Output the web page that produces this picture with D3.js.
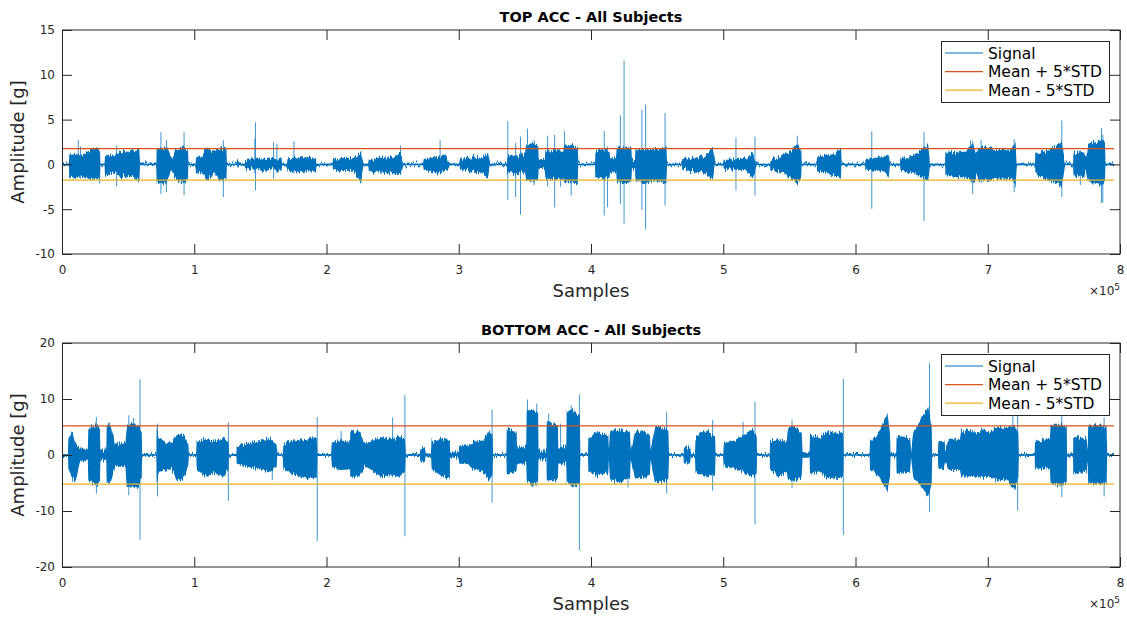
<!DOCTYPE html>
<html>
<head><meta charset="utf-8"></head>
<body style="margin:0;background:#fff">
<svg id="chart" width="1127" height="619"></svg>
<script src="https://d3js.org/d3.v7.min.js"></script>
<script>
// x values are in units of 1e5 samples, amplitudes in g
const xTicks = [0, 1, 2, 3, 4, 5, 6, 7, 8];
const topYTicks = [-10, -5, 0, 5, 10, 15];
const bottomYTicks = [-20, -10, 0, 10, 20];
const legendLabels = ["Signal", "Mean + 5*STD", "Mean - 5*STD"];
const signalEnd = 7.955;

const topUpper = 1.75, topLower = -1.75;
const bottomUpper = 5.2, bottomLower = -5.2;

// envelope of the dense signal: [x, max, min]
const topEnvelope = [
  [0,.1,-.1],[0.052,.1,-.1],[0.055,1.1,-1.6],[0.08,1.2,-1.3],[0.10,1.3,-1.5],[0.14,1.1,-1.2],[0.17,1.2,-1.4],[0.20,1.5,-1.6],[0.23,1.75,-1.7],[0.26,1.8,-1.6],[0.285,1.6,-1.8],[0.29,.1,-.1],
  [0.322,.1,-.1],[0.325,1.0,-1.3],[0.36,1.1,-1.1],[0.40,0.9,-1.0],[0.44,1.5,-1.4],[0.50,1.4,-1.3],[0.55,1.6,-1.5],[0.585,1.7,-1.9],[0.59,.1,-.1],
  [0.713,.1,-.1],[0.716,1.9,-2.0],[0.75,1.7,-2.2],[0.79,2.0,-2.0],[0.83,0.6,-0.6],[0.86,1.6,-1.7],[0.92,2.0,-2.1],[0.952,1.6,-1.6],[0.956,.1,-.1],
  [1.01,.1,-.1],[1.013,1.0,-0.8],[1.06,1.0,-0.9],[1.09,2.0,-1.7],[1.15,1.3,-1.1],[1.20,1.8,-1.8],[1.243,1.9,-1.7],[1.247,.1,-.1],
  [1.32,.1,-.1],[1.33,.5,-.5],[1.34,.1,-.1],[1.38,.1,-.1],[1.385,0.5,-0.5],[1.45,0.6,-0.6],[1.52,0.65,-0.7],[1.60,0.6,-0.6],[1.66,0.7,-0.7],[1.665,.1,-.1],
  [1.70,.1,-.1],[1.705,0.7,-0.7],[1.78,0.8,-0.9],[1.85,0.8,-0.8],[1.92,0.6,-0.8],[1.926,.1,-.1],
  [2.045,.1,-.1],[2.05,0.6,-0.6],[2.13,0.75,-0.75],[2.20,0.7,-0.7],[2.26,1.4,-1.9],[2.28,.1,-.1],
  [2.315,.1,-.1],[2.32,0.6,-0.7],[2.40,0.75,-0.9],[2.50,0.8,-1.0],[2.56,1.3,-1.2],[2.58,.1,-.1],
  [2.73,.1,-.1],[2.735,0.6,-0.6],[2.80,0.75,-1.0],[2.86,0.9,-1.0],[2.90,1.0,-0.8],[2.934,.1,-.1],
  [3.005,.1,-.1],[3.01,0.6,-0.6],[3.10,0.8,-0.8],[3.18,0.9,-0.9],[3.22,1.4,-1.6],[3.236,.1,-.1],
  [3.363,.1,-.1],[3.366,0.9,-0.9],[3.43,0.9,-1.1],[3.50,1.0,-1.0],[3.51,2.2,-1.8],[3.56,2.4,-1.9],[3.60,2.1,-1.8],[3.605,0.5,-0.5],[3.65,0.5,-0.5],
  [3.655,1.5,-1.6],[3.72,1.6,-1.6],[3.79,1.5,-1.6],[3.795,2.1,-2.0],[3.85,2.2,-2.0],[3.90,2.0,-2.1],[3.904,.1,-.1],
  [4.03,.1,-.1],[4.033,1.5,-1.4],[4.09,1.7,-1.6],[4.14,1.5,-1.5],[4.145,0.8,-0.8],[4.19,0.8,-0.8],[4.195,1.9,-2.0],[4.25,2.0,-2.1],[4.305,1.9,-2.0],[4.31,0.5,-0.5],
  [4.333,0.5,-0.5],[4.336,1.6,-1.8],[4.40,1.8,-2.1],[4.47,1.7,-1.8],[4.53,1.8,-2.0],[4.57,1.9,-2.2],[4.575,.1,-.1],
  [4.686,.1,-.1],[4.69,0.6,-0.6],[4.78,0.75,-0.8],[4.86,0.9,-0.9],[4.92,1.9,-1.85],[4.938,.1,-.1],
  [5.0,.1,-.1],[5.003,0.5,-0.5],[5.10,0.6,-0.6],[5.18,0.7,-0.7],[5.22,1.4,-1.6],[5.253,.1,-.1],
  [5.354,.1,-.1],[5.357,0.6,-0.6],[5.42,0.8,-0.8],[5.50,1.3,-1.4],[5.56,2.3,-2.2],[5.59,1.5,-1.5],[5.593,.1,-.1],
  [5.707,.1,-.1],[5.71,0.8,-0.8],[5.78,1.0,-1.05],[5.85,1.2,-1.3],[5.89,1.9,-1.6],[5.895,.1,-.1],
  [6.072,.1,-.1],[6.075,0.6,-0.6],[6.15,0.75,-0.7],[6.22,0.8,-0.8],[6.25,1.3,-1.4],[6.261,.1,-.1],
  [6.336,.1,-.1],[6.34,0.7,-0.7],[6.42,0.9,-0.9],[6.50,1.6,-1.4],[6.55,2.3,-1.7],[6.563,.1,-.1],
  [6.677,.1,-.1],[6.68,1.3,-1.2],[6.75,1.4,-1.4],[6.83,1.4,-1.5],[6.89,2.3,-2.0],[6.916,1.2,-1.2],[6.93,1.9,-1.8],[6.98,1.9,-1.8],[7.03,2.0,-1.9],
  [7.04,1.6,-1.6],[7.10,1.6,-1.7],[7.18,1.7,-1.6],[7.21,2.4,-2.5],[7.219,.1,-.1],
  [7.357,.1,-.1],[7.36,1.2,-1.1],[7.42,1.4,-1.5],[7.50,2.0,-2.0],[7.56,2.6,-2.4],[7.584,.1,-.1],
  [7.645,.1,-.1],[7.648,1.2,-1.2],[7.70,1.4,-1.4],[7.73,1.3,-1.4],[7.74,0.6,-0.6],[7.76,2.2,-2.0],[7.82,2.5,-2.2],[7.86,2.8,-2.3],[7.886,2.5,-2.1],[7.89,.1,-.1],
  [7.955,.1,-.1]
];

// isolated peaks: [x, max, min]
const topSpikes = [
  [0.123,2.75,-1.2],[0.14,2.0,-1.6],[0.285,1.4,-2.15],[0.413,2.1,-2.45],[0.577,1.8,-2.0],[0.748,3.6,-3.3],[0.79,2.7,-3.1],[0.923,3.6,-3.45],
  [1.22,2.7,-3.65],[1.458,2.86,-1.0],[1.463,4.7,-2.9],[1.60,2.5,-1.6],[1.625,2.3,-1.0],[1.754,2.6,-1.0],[2.26,1.5,-2.1],[2.56,2.1,-1.2],
  [2.859,2.7,-0.8],[3.371,4.83,-3.94],[3.43,2.4,-3.64],[3.467,3.1,-5.6],[3.52,4.0,-1.8],[3.57,2.7,-2.3],[3.672,3.2,-2.45],[3.725,3.3,-4.8],
  [3.77,1.5,-2.5],[3.80,3.7,-2.0],[3.85,2.0,-3.5],[4.10,3.7,-5.7],[4.125,2.0,-4.8],[4.222,5.46,-4.4],[4.25,11.6,-6.6],[4.385,6.1,-5.1],
  [4.413,6.7,-7.25],[4.56,5.76,-4.6],[5.096,3.0,-2.9],[5.24,3.1,-3.46],[5.56,3.2,-2.35],[6.123,3.7,-4.95],[6.518,3.6,-6.3],[6.87,2.7,-1.9],
  [6.886,2.6,-3.3],[6.95,2.75,-2.1],[7.20,2.85,-3.1],[7.56,4.9,-3.65],[7.70,1.5,-2.3],[7.86,4.05,-4.3],[7.87,3.3,-4.3]
];

const bottomEnvelope = [
  [0,.2,-.2],[0.045,.2,-.2],[0.048,2.5,-2.5],[0.07,4.1,-3.6],[0.10,2.0,-4.8],[0.136,1.2,-1.2],[0.195,1.0,-1.0],[0.199,4.5,-4.5],[0.23,5.3,-5.1],[0.26,5.5,-5.5],[0.287,4.8,-5.0],[0.29,1.0,-1.0],
  [0.335,1.0,-1.0],[0.338,5.3,-5.1],[0.37,5.3,-5.0],[0.40,2.0,-2.0],[0.48,2.5,-2.2],[0.489,5.0,-5.5],[0.53,5.6,-5.7],[0.57,5.4,-6.0],[0.603,4.0,-4.0],[0.606,.2,-.2],
  [0.713,.2,-.2],[0.716,5.0,-5.0],[0.73,3.0,-3.0],[0.78,2.4,-2.8],[0.83,2.2,-2.5],[0.87,3.8,-4.5],[0.92,3.6,-4.2],[0.955,2.0,-2.0],[0.96,.2,-.2],
  [1.015,.2,-.2],[1.018,2.5,-2.5],[1.08,2.9,-3.9],[1.15,2.6,-3.2],[1.22,2.9,-3.9],[1.258,2.5,-2.5],[1.262,.2,-.2],
  [1.318,.2,-.2],[1.321,1.6,-1.5],[1.40,2.0,-2.1],[1.50,2.5,-2.6],[1.58,2.9,-3.0],[1.623,2.0,-2.0],[1.628,.2,-.2],
  [1.67,.2,-.2],[1.673,2.0,-2.5],[1.75,2.6,-3.5],[1.85,2.9,-4.2],[1.926,3.0,-4.0],[1.93,.2,-.2],
  [2.035,.2,-.2],[2.04,2.0,-2.0],[2.10,2.6,-2.7],[2.178,2.4,-2.6],[2.18,4.1,-3.9],[2.25,4.0,-3.8],[2.29,2.0,-2.0],[2.33,2.5,-2.5],[2.40,3.2,-3.9],[2.48,3.0,-3.6],[2.55,3.2,-3.9],[2.594,3.0,-3.0],[2.6,.2,-.2],
  [2.705,.2,-.2],[2.71,1.2,-1.2],[2.745,1.2,-1.2],[2.75,.3,-.3],[2.79,.3,-.3],[2.795,2.5,-2.5],[2.86,2.9,-3.6],[2.93,2.7,-4.2],[2.934,.5,-.5],
  [3.0,.5,-.5],[3.004,1.7,-1.55],[3.07,1.7,-1.6],[3.10,2.3,-2.4],[3.18,2.6,-3.0],[3.23,4.4,-4.5],[3.255,3.5,-3.5],[3.26,.2,-.2],
  [3.36,.2,-.2],[3.363,4.7,-3.3],[3.438,4.0,-3.0],[3.44,1.5,-1.5],[3.51,1.5,-1.5],[3.514,8.0,-4.5],[3.56,8.0,-5.6],[3.60,7.5,-4.5],[3.603,0.8,-0.8],
  [3.663,0.8,-0.8],[3.665,5.9,-4.5],[3.75,5.5,-4.5],[3.753,1.5,-1.5],[3.813,1.5,-1.5],[3.816,8.0,-4.8],[3.87,8.0,-5.7],[3.915,7.0,-5.0],[3.92,.2,-.2],
  [3.977,.2,-.2],[3.98,3.0,-3.0],[4.05,4.1,-3.6],[4.131,3.5,-3.2],[4.135,1.0,-1.0],[4.144,4.4,-4.5],[4.22,4.4,-4.8],[4.295,4.0,-4.0],[4.30,0.8,-0.8],
  [4.333,4.1,-4.2],[4.40,4.0,-4.0],[4.446,3.5,-3.5],[4.45,0.8,-0.8],[4.484,5.0,-4.8],[4.54,5.0,-4.8],[4.585,4.5,-4.5],[4.59,.2,-.2],
  [4.70,.2,-.2],[4.703,1.5,-1.5],[4.75,1.5,-1.5],[4.755,.3,-.3],[4.786,.3,-.3],[4.79,3.0,-3.0],[4.86,4.4,-3.9],[4.938,3.5,-3.5],[4.942,.2,-.2],
  [5.0,.2,-.2],[5.003,2.0,-2.0],[5.08,2.6,-2.4],[5.15,3.5,-3.0],[5.22,4.7,-3.9],[5.253,3.5,-3.5],[5.256,.2,-.2],
  [5.352,.2,-.2],[5.354,2.5,-2.5],[5.42,2.9,-3.9],[5.48,2.5,-3.0],[5.492,5.0,-4.5],[5.55,5.0,-4.5],[5.593,4.0,-4.0],[5.6,.5,-.5],
  [5.653,.5,-.5],[5.656,3.5,-3.3],[5.731,3.0,-3.0],[5.78,4.1,-4.2],[5.85,3.8,-4.0],[5.905,4.1,-4.2],[5.91,.2,-.2],
  [6.107,.2,-.2],[6.11,2.5,-2.5],[6.18,4.1,-3.9],[6.24,7.4,-6.4],[6.261,4.0,-4.0],[6.265,.3,-.3],
  [6.308,.3,-.3],[6.311,3.2,-3.3],[6.412,3.0,-3.0],[6.42,.5,-.5],[6.437,4.0,-4.0],[6.50,6.5,-5.7],[6.55,8.6,-7.3],[6.576,5.0,-5.0],[6.58,.2,-.2],
  [6.623,.2,-.2],[6.626,2.5,-2.5],[6.67,2.5,-2.5],[6.68,1.0,-1.0],[6.70,2.9,-2.7],[6.79,2.9,-2.7],[6.80,4.4,-3.9],[6.90,4.2,-3.9],[6.98,4.4,-3.9],[7.042,4.0,-4.0],
  [7.05,5.0,-4.5],[7.15,5.0,-4.5],[7.20,5.2,-6.3],[7.231,4.0,-4.0],[7.235,.2,-.2],
  [7.355,.2,-.2],[7.357,2.5,-2.4],[7.47,2.9,-2.4],[7.475,5.6,-5.1],[7.55,5.6,-5.5],[7.597,5.0,-5.0],[7.6,.3,-.3],
  [7.645,.3,-.3],[7.647,3.2,-3.3],[7.748,3.0,-3.0],[7.755,1.0,-1.0],[7.76,5.3,-5.1],[7.84,5.3,-5.1],[7.899,5.0,-5.0],[7.903,.2,-.2],
  [7.955,.2,-.2]
];

const bottomSpikes = [
  [0.08,4.1,-4.8],[0.26,6.8,-6.9],[0.36,5.8,-5.1],[0.505,7.1,-7.2],[0.54,6.6,-5.0],[0.59,13.5,-15.1],[0.722,5.6,-7.4],[1.258,5.8,-8.2],
  [1.59,2.5,-4.5],[1.93,6.8,-15.4],[2.11,4.3,-2.7],[2.50,6.7,-3.9],[2.593,10.7,-14.5],[2.93,2.7,-4.2],[3.252,8.1,-8.5],[3.52,9.9,-5.0],
  [3.59,9.2,-5.6],[3.68,7.4,-4.5],[3.77,5.6,-1.5],[3.85,8.9,-5.7],[3.912,10.8,-17.0],[4.28,4.0,-5.8],[4.572,7.7,-6.9],[4.92,6.3,-6.4],
  [5.15,5.9,-3.0],[5.24,9.5,-12.4],[5.52,6.3,-5.9],[5.908,13.6,-14.3],[6.24,7.4,-6.4],[6.56,16.4,-10.2],[7.19,7.1,-5.0],[7.226,7.1,-9.9],
  [7.56,7.4,-7.5],[7.88,6.7,-7.4]
];

const colors = ["#0072BD", "#D95319", "#EDB120"];
const axisColor = "#262626";
const font = "'DejaVu Sans', 'Liberation Sans', sans-serif";

const svg = d3.select("#chart").style("font-family", font);

// rough vertical edge so the envelope reads like a dense trace
const filt = svg.append("defs").append("filter").attr("id", "rough")
  .attr("filterUnits", "userSpaceOnUse").attr("x", 0).attr("y", 0).attr("width", 1127).attr("height", 619)
  .attr("color-interpolation-filters", "sRGB");
filt.append("feTurbulence").attr("type", "fractalNoise").attr("baseFrequency", "0.9 0.015")
  .attr("numOctaves", 2).attr("seed", 7).attr("result", "noise");
const ct = filt.append("feComponentTransfer").attr("in", "noise").attr("result", "map");
ct.append("feFuncR").attr("type", "linear").attr("slope", 0).attr("intercept", 0.5);
ct.append("feFuncA").attr("type", "linear").attr("slope", 0).attr("intercept", 1);
filt.append("feDisplacementMap").attr("in", "SourceGraphic").attr("in2", "map")
  .attr("scale", 9).attr("xChannelSelector", "R").attr("yChannelSelector", "G");

const panels = [
  {title: "TOP ACC - All Subjects", top: 30, bottom: 254, yDomain: [-10, 15], yTicks: topYTicks,
   env: topEnvelope, spikes: topSpikes, upper: topUpper, lower: topLower},
  {title: "BOTTOM ACC - All Subjects", top: 343, bottom: 567, yDomain: [-20, 20], yTicks: bottomYTicks,
   env: bottomEnvelope, spikes: bottomSpikes, upper: bottomUpper, lower: bottomLower}
];

const left = 62, right = 1120;
const x = d3.scaleLinear().domain([0, 8]).range([left, right]);
const tickText = d => String(d);

panels.forEach((p, k) => {
  const y = d3.scaleLinear().domain(p.yDomain).range([p.bottom, p.top]);
  const g = svg.append("g");

  g.append("rect").attr("x", left).attr("y", p.top).attr("width", right - left).attr("height", p.bottom - p.top).attr("fill", "#fff");

  const clipId = "clip" + k;
  g.append("clipPath").attr("id", clipId).append("rect")
    .attr("x", left).attr("y", p.top).attr("width", right - left).attr("height", p.bottom - p.top);
  const plot = g.append("g").attr("clip-path", `url(#${clipId})`);

  // signal: envelope of the bursts, then the single peaks
  const area = d3.area().x(d => x(d[0])).y0(d => y(d[2])).y1(d => y(d[1]));
  plot.append("g").attr("filter", "url(#rough)")
    .append("path").datum(p.env).attr("d", area).attr("fill", colors[0]);
  plot.append("line").attr("x1", x(0)).attr("x2", x(signalEnd)).attr("y1", y(0)).attr("y2", y(0))
    .attr("stroke", colors[0]).attr("stroke-width", 1.5);
  plot.selectAll(".spike").data(p.spikes).enter().append("line")
    .attr("x1", d => x(d[0])).attr("x2", d => x(d[0]))
    .attr("y1", d => y(d[1])).attr("y2", d => y(d[2]))
    .attr("stroke", colors[0]).attr("stroke-width", 1).attr("opacity", 0.75);

  // thresholds
  [p.upper, p.lower].forEach((v, i) => {
    plot.append("line").attr("x1", x(0)).attr("x2", x(signalEnd))
      .attr("y1", y(v)).attr("y2", y(v))
      .attr("stroke", colors[i + 1]).attr("stroke-width", 1.2);
  });

  // axes, ticks pointing inward
  const styleAxis = sel => {
    sel.select(".domain").remove();
    sel.selectAll("line").attr("stroke", axisColor);
    sel.selectAll("text").attr("fill", axisColor).style("font-size", "12px").style("font-family", font);
  };
  g.append("g").attr("transform", `translate(0,${p.bottom})`)
    .call(d3.axisBottom(x).tickValues(xTicks).tickSize(-10).tickPadding(11).tickFormat(tickText))
    .call(styleAxis);
  g.append("g").attr("transform", `translate(0,${p.top})`)
    .call(d3.axisTop(x).tickValues(xTicks).tickSize(-10).tickFormat(""))
    .call(styleAxis);
  g.append("g").attr("transform", `translate(${left},0)`)
    .call(d3.axisLeft(y).tickValues(p.yTicks).tickSize(-10).tickPadding(7).tickFormat(tickText))
    .call(styleAxis);
  g.append("g").attr("transform", `translate(${right},0)`)
    .call(d3.axisRight(y).tickValues(p.yTicks).tickSize(-10).tickFormat(""))
    .call(styleAxis);

  g.append("rect").attr("x", left + 0.5).attr("y", p.top).attr("width", right - left - 0.5).attr("height", p.bottom - p.top)
    .attr("fill", "none").attr("stroke", axisColor).attr("stroke-width", 1);

  // labels
  g.append("text").attr("x", (left + right) / 2).attr("y", p.top - 8)
    .attr("text-anchor", "middle").style("font-size", "14.5px").style("font-weight", "bold").attr("fill", "#000")
    .text(p.title);
  g.append("text").attr("x", (left + right) / 2).attr("y", p.bottom + 42.5)
    .attr("text-anchor", "middle").style("font-size", "18px").attr("fill", axisColor).text("Samples");
  g.append("text").attr("transform", `translate(24,${(p.top + p.bottom) / 2}) rotate(-90)`)
    .attr("text-anchor", "middle").style("font-size", "18px").attr("fill", axisColor).text("Amplitude [g]");
  const exp = g.append("text").attr("x", right).attr("y", p.bottom + 41)
    .attr("text-anchor", "end").attr("fill", axisColor).style("font-size", "12px");
  exp.append("tspan").text("\u00d710");
  exp.append("tspan").attr("dy", -5).style("font-size", "9px").text("5");

  // legend
  const lx = right - 179, ly = p.top + 11;
  const lg = g.append("g").attr("transform", `translate(${lx},${ly})`);
  lg.append("rect").attr("x", 0.5).attr("y", 0.5).attr("width", 168).attr("height", 61)
    .attr("fill", "#fff").attr("stroke", axisColor).attr("stroke-width", 1);
  legendLabels.forEach((lab, i) => {
    const ry = 12 + i * 18.6;
    lg.append("line").attr("x1", 4).attr("x2", 42).attr("y1", ry).attr("y2", ry)
      .attr("stroke", colors[i]).attr("stroke-width", 1.2);
    lg.append("text").attr("x", 47).attr("y", ry).attr("dy", "0.36em")
      .style("font-size", "15.5px").attr("fill", "#000").text(lab);
  });
});
</script>
</body>
</html>
